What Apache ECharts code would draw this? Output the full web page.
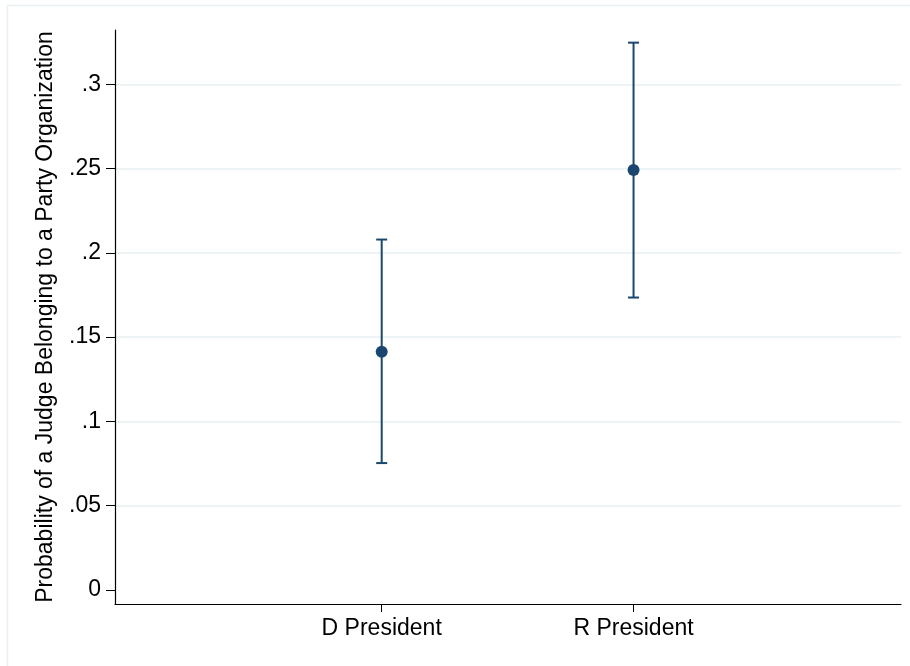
<!DOCTYPE html>
<html>
<head>
<meta charset="utf-8">
<script src="https://cdn.jsdelivr.net/npm/echarts@6/dist/echarts.min.js"></script>
<style>
  html, body { margin: 0; padding: 0; background: #ffffff; }
  #chart { width: 910px; height: 666px; }
</style>
</head>
<body>
<div id="chart"></div>
<script>
// Predicted probabilities with 95% confidence intervals
const categories = ['D President', 'R President'];
const xPositions = [1, 2];
const estimates = [0.1414, 0.2492];
const lowerBounds = [0.0753, 0.1735];
const upperBounds = [0.2079, 0.3247];
const yTicks = [0, 0.05, 0.1, 0.15, 0.2, 0.25, 0.3];
const yTickLabels = ['0', '.05', '.1', '.15', '.2', '.25', '.3'];

const navy = '#1a476f';
const gridColor = '#e9f0f2';
const font = '"Liberation Sans", Arial, Helvetica, sans-serif';

const pointData = xPositions.map((x, i) => [x, estimates[i]]);
const barData = xPositions.map((x, i) => [x, lowerBounds[i], upperBounds[i]]);

const chart = echarts.init(document.getElementById('chart'), null, { renderer: 'canvas' });

chart.setOption({
  backgroundColor: '#ffffff',
  animation: false,
  textStyle: { fontFamily: font },
  graphic: [{
    type: 'rect',
    silent: true,
    shape: { x: 7.5, y: 5.5, width: 920, height: 680 },
    style: { fill: 'none', stroke: gridColor, lineWidth: 1.5 }
  }],
  grid: { left: 115, right: 9, top: 30, bottom: 62 },
  xAxis: {
    type: 'value',
    min: -0.059,
    max: 3.062,
    axisLine: { show: true, onZero: false, lineStyle: { color: '#000', width: 1.2 } },
    axisTick: { show: true, length: 8, customValues: xPositions, lineStyle: { color: '#000', width: 1 } },
    axisLabel: {
      customValues: xPositions,
      margin: 13,
      fontSize: 23,
      color: '#000',
      fontFamily: font,
      formatter: v => categories[xPositions.indexOf(v)] || ''
    },
    splitLine: { show: false }
  },
  yAxis: {
    type: 'value',
    min: -0.0083,
    max: 0.3322,
    name: 'Probability of a Judge Belonging to a Party Organization',
    nameLocation: 'middle',
    nameGap: 58,
    nameRotate: 90,
    nameTextStyle: { fontSize: 23, color: '#000', fontFamily: font },
    axisLine: { show: true, onZero: false, lineStyle: { color: '#000', width: 1.2 } },
    axisTick: { show: true, length: 9, customValues: yTicks, lineStyle: { color: '#000', width: 1 } },
    axisLabel: {
      customValues: yTicks,
      margin: 14,
      fontSize: 23,
      color: '#000',
      fontFamily: font,
      formatter: v => {
        const i = yTicks.findIndex(t => Math.abs(t - v) < 1e-9);
        return i >= 0 ? yTickLabels[i] : '';
      }
    },
    splitLine: {
      show: true,
      lineStyle: { color: ['transparent', gridColor, gridColor, gridColor, gridColor, gridColor, gridColor], width: 1.5 }
    }
  },
  series: [
    {
      type: 'custom',
      name: 'CI',
      data: barData,
      renderItem: (params, api) => {
        const x = api.value(0);
        const lo = api.coord([x, api.value(1)]);
        const hi = api.coord([x, api.value(2)]);
        const half = 5.5;
        const style = { stroke: navy, lineWidth: 2, fill: 'none' };
        return {
          type: 'group',
          children: [
            { type: 'line', shape: { x1: lo[0], y1: lo[1], x2: hi[0], y2: hi[1] }, style },
            { type: 'line', shape: { x1: hi[0] - half, y1: hi[1], x2: hi[0] + half, y2: hi[1] }, style },
            { type: 'line', shape: { x1: lo[0] - half, y1: lo[1], x2: lo[0] + half, y2: lo[1] }, style }
          ]
        };
      },
      z: 2
    },
    {
      type: 'scatter',
      name: 'Estimate',
      data: pointData,
      symbol: 'circle',
      symbolSize: 12,
      itemStyle: { color: navy, opacity: 1 },
      z: 3
    }
  ]
});
</script>
</body>
</html>
